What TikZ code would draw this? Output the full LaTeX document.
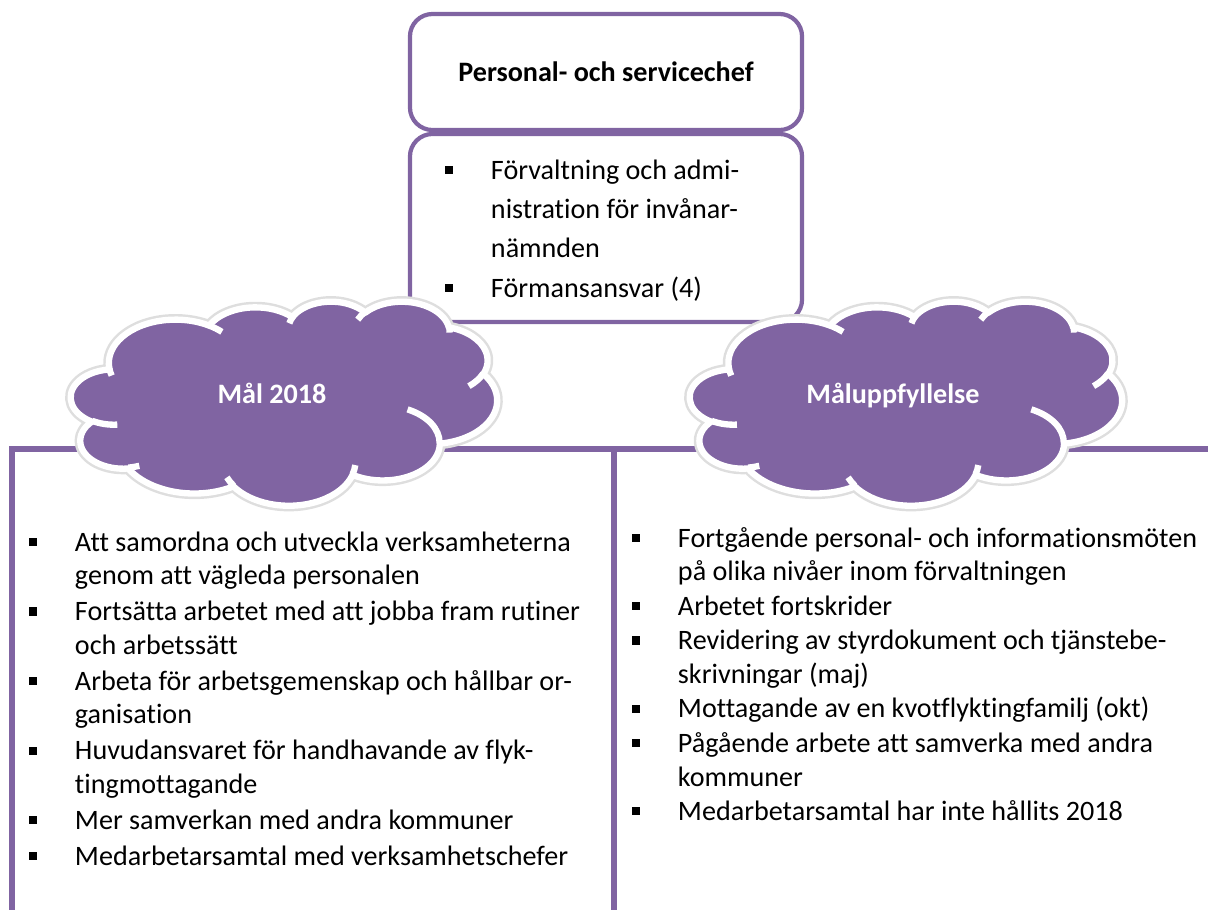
\documentclass[tikz,border=0pt]{standalone}
\usepackage{fontspec}
\setmainfont{Carlito}[Ligatures=NoCommon]
\definecolor{lila}{RGB}{128,100,162}
\newcommand{\punkt}{\makebox[32.5pt][l]{\rule[0.18em]{0.29em}{0.29em}}}
% ellipsbåge: x-radie, y-radie, startvinkel, svep
\newcommand{\bage}[4]{arc[x radius=#1, y radius=#2,
    start angle={parv(#3,#1,#2)}, end angle={parv(#3+#4,#1,#2)}]}
\newcommand{\molnbana}{(3.9,14.37)
    \bage{6.753}{9.19}{-190.4875}{123.7805}
    \bage{5.333}{7.267}{-144.1024}{89.9452}
    \bage{4.365}{5.945}{-145.8079}{99.7230}
    \bage{4.857}{6.595}{-130.9861}{117.2417}
    \bage{5.333}{7.273}{-78.7089}{109.0269}
    \bage{6.775}{9.22}{-46.2673}{130.2690}
    \bage{5.785}{7.867}{0.625}{114.0333}
    \bage{6.752}{9.215}{22.4516}{115.1726}
    \bage{7.72}{10.543}{66.2426}{75.7110}
    \bage{4.36}{5.918}{-274.9421}{146.7356}
    \bage{4.345}{5.945}{-246.8285}{152.5189} -- cycle}
\newcommand{\molnlinjer}{
    (4.693,26.177) \bage{4.345}{5.945}{86.742}{26.4295}
    (6.928,34.899) \bage{4.36}{5.918}{73.6105}{11.4475}
    (16.478,39.09) \bage{6.752}{9.215}{137.6242}{14.0811}
    (28.827,34.751) \bage{6.752}{9.215}{6.4533}{15.9984}
    (34.129,22.954) \bage{5.785}{7.867}{-70.2924}{70.9174}
    (41.798,15.354) \bage{5.333}{7.273}{30.318}{27.7515}
    (38.324,5.426) \bage{4.857}{6.595}{-13.7443}{14.8589}
    (29.078,3.952) \bage{4.857}{6.595}{-149.1815}{18.1954}
    (22.141,4.72) \bage{4.365}{5.945}{-163.4943}{17.6864}
    (14,5.192) \bage{6.753}{9.19}{-66.707}{12.3194}
    (4.127,15.789) \bage{6.753}{9.19}{157.6544}{11.8582}}

\begin{document}
\begin{tikzpicture}[x=0.025cm, y=-0.025cm,
    declare function={parv(\a,\rx,\ry)=\a+mod(atan2(\rx*sin(\a),\ry*cos(\a))-\a+540,360)-180;},
    every node/.style={font=\fontsize{20}{24}\selectfont, inner sep=0pt},
    ruta/.style={draw=lila, line width=3pt, rounded corners=16pt, minimum width=9.8cm},
    falt/.style={draw=lila, line width=4.3pt, outer sep=0pt, anchor=north west},
    lista/.style={anchor=base west, align=left},
    skugga/.style={draw=black!13, line width=8pt, line join=round},
    molnyta/.style={fill=lila, draw=white, line width=4.5pt, line join=round},
    molnlinje/.style={draw=white, line width=4.5pt},
    molntext/.style={anchor=base, text=white, font=\fontsize{20}{24}\selectfont\bfseries}]
    \useasboundingbox (0,0) rectangle (1208,909);
    \clip (0,0) rectangle (1208,909);

    % Nedre fält
    \node[falt, minimum width=15.05cm, minimum height=12cm] (malfalt) at (12,449) {};
    \node[falt, minimum width=16cm, minimum height=12cm] (uppffalt) at (614,449) {};

    % Chef och ansvar
    \node[ruta, minimum height=2.9cm, font=\fontsize{20}{24}\selectfont\bfseries]
        (chef) at (606,72) {Personal- och servicechef};
    \node[ruta, minimum height=4.7cm] (ansvar) at (606,228) {};
    \node[lista, font=\fontsize{20}{28}\selectfont] (ansvarslista) at (445,179) {%
        \begin{tabular}[t]{@{}l@{}l@{}}
        \punkt & Förvaltning och admi-\\
               & nistration för invånar-\\
               & nämnden\\
        \punkt & Förmansansvar (4)
        \end{tabular}};

    % Listor
    \node[lista] (mallista) at (29,551) {%
        \begin{tabular}[t]{@{}l@{}l@{}}
        \punkt & Att samordna och utveckla verksamheterna\\
               & genom att vägleda personalen\\[1.5pt]
        \punkt & Fortsätta arbetet med att jobba fram rutiner\\
               & och arbetssätt\\[1.5pt]
        \punkt & Arbeta för arbetsgemenskap och hållbar or-\\
               & ganisation\\[1.5pt]
        \punkt & Huvudansvaret för handhavande av flyk-\\
               & tingmottagande\\[1.5pt]
        \punkt & Mer samverkan med andra kommuner\\[1.5pt]
        \punkt & Medarbetarsamtal med verksamhetschefer
        \end{tabular}};
    \node[lista] (uppflista) at (632,547) {%
        \begin{tabular}[t]{@{}l@{}l@{}}
        \punkt & Fortgående personal- och informationsmöten\\
               & på olika nivåer inom förvaltningen\\[0.5pt]
        \punkt & Arbetet fortskrider\\[0.5pt]
        \punkt & Revidering av styrdokument och tjänstebe-\\
               & skrivningar (maj)\\[0.5pt]
        \punkt & Mottagande av en kvotflyktingfamilj (okt)\\[0.5pt]
        \punkt & Pågående arbete att samverka med andra\\
               & kommuner\\[0.5pt]
        \punkt & Medarbetarsamtal har inte hållits 2018
        \end{tabular}};

    % Moln
    \begin{scope}[shift={(71,301)}, xscale=9.861, yscale=4.722]
        \path[skugga] \molnbana;
        \path[molnyta] \molnbana;
        \path[molnlinje] \molnlinjer;
    \end{scope}
    \begin{scope}[shift={(690,301)}, xscale=10, yscale=4.722]
        \path[skugga] \molnbana;
        \path[molnyta] \molnbana;
        \path[molnlinje] \molnlinjer;
    \end{scope}
    \node[molntext] (malmoln) at (272,403) {Mål 2018};
    \node[molntext] (uppfmoln) at (893,403) {Måluppfyllelse};
\end{tikzpicture}
\end{document}
